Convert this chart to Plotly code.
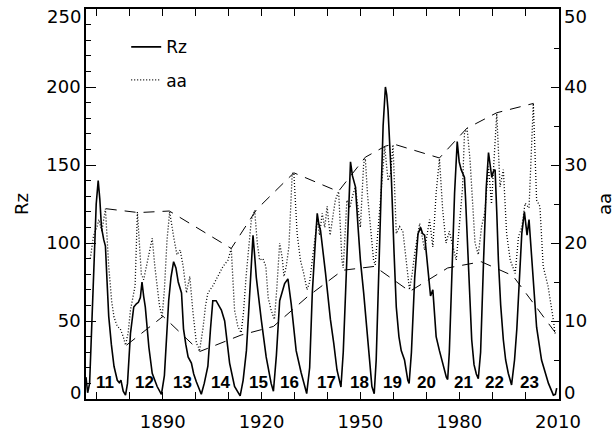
import plotly.graph_objects as go

# ---- Data ----
rz_year = [1866.7, 1867.2, 1867.8, 1868.5, 1869.2, 1869.8, 1870.4, 1870.9, 1871.4, 1872.1,
           1872.6, 1873.1, 1873.6, 1874.4, 1875.2, 1876.2, 1876.8, 1877.3, 1878.0, 1878.7,
           1879.3, 1880.2, 1881.2, 1882.0, 1882.6, 1883.2, 1883.7, 1884.2, 1884.7, 1885.8,
           1886.8, 1888.3, 1889.6, 1890.5, 1891.2, 1891.8, 1892.5, 1893.3, 1894.0, 1894.7,
           1895.7, 1896.3, 1897.0, 1897.7, 1898.7, 1899.4, 1900.2, 1901.7, 1902.6, 1903.7,
           1904.5, 1905.2, 1906.2, 1907.0, 1907.8, 1908.8, 1909.6, 1910.3, 1911.8, 1913.5,
           1914.4, 1915.4, 1916.2, 1916.9, 1917.4, 1917.9, 1918.4, 1919.9, 1921.4, 1922.9,
           1923.6, 1924.5, 1925.5, 1927.0, 1928.0, 1929.0, 1930.5, 1932.0, 1933.7, 1934.6,
           1935.4, 1936.3, 1936.9, 1937.4, 1937.9, 1939.4, 1940.9, 1941.9, 1942.9, 1944.1,
           1944.8, 1945.5, 1946.3, 1947.0, 1947.6, 1948.5, 1949.3, 1950.0, 1951.0, 1952.5,
           1953.5, 1954.2, 1954.8, 1955.4, 1956.2, 1956.9, 1957.6, 1958.0, 1958.4, 1959.4,
           1960.2, 1960.9, 1961.7, 1962.4, 1963.4, 1964.4, 1964.8, 1965.5, 1966.5, 1967.5,
           1968.3, 1968.9, 1969.5, 1970.5, 1971.3, 1972.0, 1972.5, 1973.0, 1974.0, 1975.1,
           1976.1, 1976.5, 1977.0, 1977.6, 1978.6, 1979.4, 1980.0, 1980.6, 1981.6, 1981.9,
           1982.5, 1983.3, 1983.8, 1984.5, 1985.2, 1985.8, 1986.5, 1987.4, 1988.2, 1988.9,
           1989.4, 1989.9, 1990.4, 1990.9, 1991.4, 1991.9, 1992.6, 1993.4, 1994.1, 1994.9,
           1995.9, 1996.8, 1997.5, 1998.0, 1999.0, 1999.8, 2000.2, 2000.6, 2001.2, 2001.6,
           2002.0, 2003.5, 2005.0, 2007.1, 2008.6, 2009.2, 2009.6]
rz_value = [14, 4, 10, 45, 90, 125, 140, 128, 110, 102,
            98, 75, 53, 35, 21, 12, 10.5, 12, 5, 2.5,
            10, 42, 59, 61, 62, 65, 75, 66, 59, 33,
            16.5, 8, 3, 15, 45, 63, 78, 88, 84, 75,
            68, 45, 35, 27, 23, 16, 11, 3, 10, 21,
            45, 63, 63, 60, 57, 50, 35, 23, 8, 2,
            12, 31, 60, 87, 105, 92, 78, 51, 27, 10,
            5, 28, 63, 74, 77, 61, 31, 17, 3.5, 20,
            68, 100, 119, 112, 108, 81, 51, 36, 18.6, 7.7,
            30, 68, 115, 152, 143, 136, 110, 89, 68, 33,
            8, 3.4, 25, 68, 130, 175, 200, 195, 185, 142,
            95, 59, 40, 31, 25, 12, 10, 30, 78, 106,
            110, 106, 105, 85, 66, 70, 55, 40, 31, 21,
            14, 12.5, 30, 68, 132, 165, 152, 147, 142, 130,
            100, 68, 38, 22, 16, 13, 30, 89, 135, 158,
            150, 142, 146, 147, 120, 89, 60, 38, 25, 16.5,
            9, 25, 45, 68, 106, 120, 112, 105, 115, 103,
            89, 46, 25, 10, 2.5, 3, 7]

aa_year = [1868.0, 1869.0, 1870.0, 1870.6, 1871.5, 1872.6, 1873.6, 1874.5, 1875.2, 1876.2,
           1877.1, 1878.0, 1878.7, 1879.5, 1880.2, 1881.0, 1881.6, 1882.3, 1882.8, 1883.5,
           1884.2, 1885.0, 1885.8, 1886.8, 1887.6, 1888.3, 1889.0, 1889.8, 1890.5, 1891.3,
           1892.1, 1893.3, 1894.3, 1895.3, 1896.2, 1897.2, 1898.2, 1899.2, 1900.2, 1901.2,
           1902.2, 1903.0, 1903.7, 1905.2, 1906.8, 1908.3, 1909.8, 1910.8, 1911.8, 1912.8,
           1913.8, 1914.5, 1915.3, 1916.9, 1917.9, 1918.7, 1919.4, 1920.4, 1921.3, 1922.0,
           1922.9, 1923.9, 1924.6, 1925.5, 1926.3, 1926.8, 1927.5, 1928.3, 1929.3, 1929.8,
           1930.8, 1931.8, 1932.8, 1933.8, 1934.6, 1935.4, 1936.9, 1937.6, 1938.4, 1939.2,
           1939.9, 1940.8, 1941.6, 1942.4, 1943.4, 1944.4, 1944.8, 1945.9, 1946.8, 1947.6,
           1948.5, 1949.3, 1950.0, 1951.0, 1951.5, 1952.2, 1953.0, 1954.0, 1954.5, 1955.4,
           1956.4, 1957.4, 1958.4, 1959.2, 1959.9, 1960.9, 1961.9, 1962.9, 1963.9, 1964.9,
           1965.7, 1966.5, 1968.0, 1969.5, 1971.0, 1972.0, 1973.0, 1974.0, 1975.0, 1976.0,
           1977.0, 1978.1, 1979.1, 1980.0, 1981.0, 1981.6, 1982.4, 1983.3, 1984.3, 1984.8,
           1985.8, 1986.8, 1987.8, 1988.9, 1989.8, 1991.4, 1992.4, 1993.4, 1994.4, 1995.5,
           1997.0, 1998.0, 1999.0, 2000.0, 2001.2, 2002.5, 2003.5, 2004.5, 2005.5, 2007.0,
           2008.6, 2009.1]
aa_value = [18, 21, 22, 23, 21.5, 24.4, 17, 12.5, 10.5, 9.3,
            9, 8, 6.9, 8.5, 11.4, 13, 14.5, 24, 20, 16,
            15.3, 17, 18.7, 20.6, 17, 14.8, 12, 10.5, 14, 20.4,
            24, 20.8, 18.5, 19.1, 17, 13.6, 15.7, 11, 7.2, 6.3,
            9, 12, 13.6, 14.5, 15.7, 17, 17.8, 19.3, 11.4, 9.3,
            8.5, 11, 15.7, 23, 24.2, 20, 17.8, 18, 17, 13,
            11.4, 10.2, 14, 20, 18, 15.7, 17, 19.5, 28.9, 29,
            21.2, 17.8, 16.1, 14, 15, 17.8, 23, 21, 23.8, 22,
            24.7, 21, 23, 25.5, 26.6, 17.8, 16.8, 25.5, 24.5, 26,
            27.2, 24, 22, 30.2, 30.8, 26, 22, 17.8, 17.2, 22,
            27.2, 32.3, 28, 29, 32.6, 21.2, 22.1, 21.5, 17.8, 14,
            16, 18.7, 22.5, 19.1, 23, 19.5, 26.4, 30.8, 24.2, 20,
            21.5, 19.5, 17.8, 22, 27, 34, 34.7, 30.6, 24.2, 20,
            18.5, 22.1, 24, 29.8, 25, 36.6, 27.2, 29.4, 21.2, 17.8,
            16.1, 20.8, 22, 25.1, 24.5, 37.9, 25.5, 24.7, 17, 14.4,
            10.1, 8.4]

env_upper_year = [1872.7, 1882.6, 1892.0, 1910.8, 1918.5, 1929.8, 1943.3, 1951.5, 1957.5,
                  1960.0, 1974.0, 1982.3, 1991.4, 2002.6]
env_upper_value = [24.4, 23.9, 24.1, 19.3, 24.3, 29.0, 26.6, 31.0, 32.4,
                   32.7, 30.9, 34.7, 36.7, 37.9]
env_lower_year = [1879.0, 1890.1, 1901.3, 1913.8, 1923.6, 1933.9, 1944.6, 1954.3, 1965.0,
                  1976.5, 1986.7, 1996.3, 2009.2]
env_lower_value = [6.9, 10.6, 6.1, 8.2, 9.3, 13.1, 16.5, 17.0, 13.8,
                   16.8, 17.6, 15.8, 8.5]

cycle_numbers = ["11", "12", "13", "14", "15", "16", "17", "18", "19", "20", "21", "22", "23"]
cycle_label_year = [1872.4, 1884.5, 1896.0, 1907.5, 1919.2, 1928.4, 1939.7, 1949.6, 1959.9,
                    1970.2, 1981.2, 1990.8, 2001.4]
cycle_label_rz = 10.3

x_tick_vals = [1890, 1920, 1950, 1980, 2010]
rz_tick_vals = [0, 50, 100, 150, 200, 250]
aa_tick_vals = [0, 10, 20, 30, 40, 50]

# ---- Figure ----
fig = go.Figure()
fig.add_trace(go.Scatter(x=rz_year, y=rz_value, mode="lines", name="Rz", legendgroup="rz",
                         line=dict(color="black", width=1.6), yaxis="y"))
fig.add_trace(go.Scatter(x=aa_year, y=aa_value, mode="lines", name="aa", legendgroup="aa",
                         line=dict(color="black", width=1.3, dash="1px,2px"), yaxis="y2"))
fig.add_trace(go.Scatter(x=env_upper_year, y=env_upper_value, mode="lines", showlegend=False,
                         line=dict(color="black", width=1, dash="11px,8px"), yaxis="y2"))
fig.add_trace(go.Scatter(x=env_lower_year, y=env_lower_value, mode="lines", showlegend=False,
                         line=dict(color="black", width=1, dash="11px,8px"), yaxis="y2"))

for lab, yr in zip(cycle_numbers, cycle_label_year):
    fig.add_annotation(x=yr, y=cycle_label_rz, xref="x", yref="y", text="<b>%s</b>" % lab,
                       showarrow=False, font=dict(family="Liberation Sans", size=17, color="black"))

tickfont = dict(family="DejaVu Sans", size=18, color="black")

# end labels of the value axes, nudged inside the frame like the reference
for v, shift in ((rz_tick_vals[0], 7), (rz_tick_vals[-1], -7)):
    fig.add_annotation(x=0, xref="paper", y=v, yref="y", text=str(v), showarrow=False,
                       xanchor="right", xshift=-3, yshift=shift, font=tickfont)
for v, shift in ((aa_tick_vals[0], 7), (aa_tick_vals[-1], -7)):
    fig.add_annotation(x=1, xref="paper", y=v, yref="y2", text=str(v), showarrow=False,
                       xanchor="left", xshift=3, yshift=shift, font=tickfont)

rz_text = [""] + [str(v) for v in rz_tick_vals[1:-1]] + [""]
aa_text = [""] + [str(v) for v in aa_tick_vals[1:-1]] + [""]

fig.update_layout(
    width=615, height=431,
    margin=dict(l=86, r=56, t=9, b=32, autoexpand=False),
    paper_bgcolor="white", plot_bgcolor="white",
    showlegend=True,
    legend=dict(x=0.085, y=0.948, xanchor="left", yanchor="top", bgcolor="rgba(0,0,0,0)",
                font=dict(family="DejaVu Sans", size=17, color="black"),
                itemwidth=30, tracegroupgap=8),
    xaxis=dict(range=[1866.7, 2010.3], tickvals=x_tick_vals, ticks="inside", ticklen=7,
               tickwidth=1, tickcolor="black", showline=True, linecolor="black", linewidth=1.5,
               mirror="ticks", showgrid=False, zeroline=False, tickfont=tickfont,
               automargin=False, ticklabelstandoff=6, ticklabeloverflow="allow",
               minor=dict(dtick=10, tick0=1870, ticks="inside", ticklen=7, tickcolor="black",
                          showgrid=False)),
    yaxis=dict(range=[0, 250], tickvals=rz_tick_vals, ticktext=rz_text, ticks="inside",
               ticklen=10, tickwidth=1,
               tickcolor="black", showline=True, linecolor="black", linewidth=1.5,
               showgrid=False, zeroline=False, tickfont=tickfont, automargin=False,
               title=dict(text="Rz", font=tickfont, standoff=13),
               minor=dict(dtick=10, ticks="inside", ticklen=5, tickcolor="black", showgrid=False)),
    yaxis2=dict(range=[0, 50], tickvals=aa_tick_vals, ticktext=aa_text, overlaying="y",
                side="right", ticks="inside",
                ticklen=8, tickwidth=1, tickcolor="black", showline=True, linecolor="black",
                linewidth=1.5, showgrid=False, zeroline=False, tickfont=tickfont,
                automargin=False,
                title=dict(text="aa", font=tickfont, standoff=12),
                minor=dict(dtick=5, ticks="inside", ticklen=5, tickcolor="black", showgrid=False)),
)

fig.write_html("out.html", config={"displayModeBar": False},
               post_script="document.body.style.margin='0';document.body.style.padding='0';")
